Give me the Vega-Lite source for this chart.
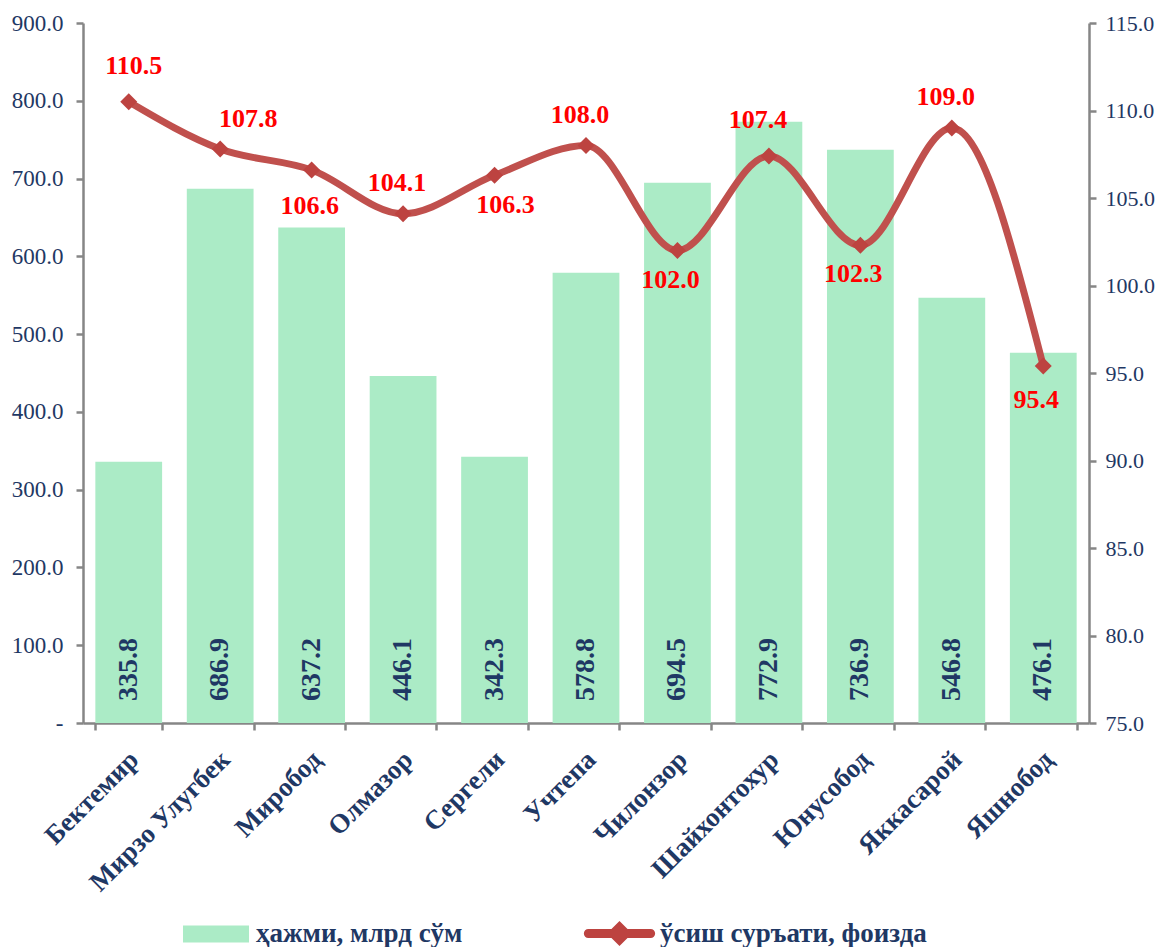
{
  "$schema": "https://vega.github.io/schema/vega-lite/v6.json",
  "width": 1006,
  "height": 700,
  "autosize": {"type": "none"},
  "padding": {"left": 83, "top": 23, "right": 67, "bottom": 224},
  "background": "white",
  "config": {
    "view": {"stroke": null},
    "font": "Liberation Serif",
    "axis": {
      "domainColor": "#868686",
      "domainWidth": 2.5,
      "tickColor": "#868686",
      "tickWidth": 2.5,
      "tickSize": 7,
      "labelColor": "#1f3864",
      "labelFont": "Liberation Serif",
      "labelFontSize": 22,
      "grid": false,
      "title": null
    },
    "legend": {
      "padding": 0,
      "labelFont": "Liberation Serif",
      "labelFontSize": 27,
      "labelFontWeight": "bold",
      "labelColor": "#1f3864",
      "labelLimit": 0,
      "title": null
    }
  },
  "data": {
    "values": [
      {"district": "Бектемир", "volume": 335.8, "growth": 110.5},
      {"district": "Мирзо Улугбек", "volume": 686.9, "growth": 107.8},
      {"district": "Миробод", "volume": 637.2, "growth": 106.6},
      {"district": "Олмазор", "volume": 446.1, "growth": 104.1},
      {"district": "Сергели", "volume": 342.3, "growth": 106.3},
      {"district": "Учтепа", "volume": 578.8, "growth": 108.0},
      {"district": "Чилонзор", "volume": 694.5, "growth": 102.0},
      {"district": "Шайхонтохур", "volume": 772.9, "growth": 107.4},
      {"district": "Юнусобод", "volume": 736.9, "growth": 102.3},
      {"district": "Яккасарой", "volume": 546.8, "growth": 109.0},
      {"district": "Яшнобод", "volume": 476.1, "growth": 95.4}
    ]
  },
  "encoding": {
    "x": {
      "field": "district",
      "type": "nominal",
      "sort": null,
      "scale": {"paddingInner": 0.27, "paddingOuter": 0.135},
      "axis": {
        "labelAngle": -45,
        "labelAlign": "right",
        "labelBaseline": "top",
        "labelFontWeight": "bold",
        "labelFontSize": 27,
        "labelPadding": 16,
        "labelOffset": -4,
        "labelLimit": 0,
        "tickBand": "extent"
      }
    }
  },
  "layer": [
    {
      "encoding": {
        "y": {
          "field": "volume",
          "type": "quantitative",
          "scale": {"domain": [0, 900], "nice": false},
          "axis": {
            "orient": "left",
            "values": [0, 100, 200, 300, 400, 500, 600, 700, 800, 900],
            "labelExpr": "datum.value == 0 ? '-' : format(datum.value, '.1f')",
            "labelFontSize": 23,
            "labelPadding": 13
          }
        }
      },
      "layer": [
        {
          "mark": {"type": "bar", "color": "#abebc6"},
          "encoding": {
            "fill": {
              "datum": "ҳажми, млрд сўм",
              "type": "nominal",
              "scale": {"range": ["#abebc6"]},
              "legend": {
                "orient": "none",
                "legendX": 100,
                "legendY": 878,
                "labelOffset": 7,
                "symbolType": "M-1,-0.258H1V0.258H-1Z",
                "symbolSize": 4356,
                "symbolStrokeWidth": 0
              }
            }
          }
        },
        {
          "mark": {
            "type": "text",
            "angle": 270,
            "align": "left",
            "baseline": "middle",
            "dx": 22,
            "fontSize": 28,
            "fontWeight": "bold",
            "color": "#1f3864"
          },
          "encoding": {
            "y": {"datum": 0},
            "text": {"field": "volume", "type": "quantitative", "format": ".1f"}
          }
        }
      ]
    },
    {
      "encoding": {
        "y": {
          "field": "growth",
          "type": "quantitative",
          "scale": {"domain": [75, 115], "nice": false},
          "axis": {
            "orient": "right",
            "values": [75, 80, 85, 90, 95, 100, 105, 110, 115],
            "format": ".1f",
            "labelFontSize": 22,
            "labelPadding": 9
          }
        }
      },
      "layer": [
        {
          "mark": {"type": "line", "color": "#c0504d", "strokeWidth": 7, "interpolate": "monotone"},
          "encoding": {}
        },
        {
          "mark": {"type": "point", "shape": "diamond", "size": 289, "filled": true, "opacity": 1},
          "encoding": {
            "color": {
              "datum": "ўсиш суръати, фоизда",
              "type": "nominal",
              "scale": {"range": ["#bd4340"]},
              "legend": {
                "orient": "none",
                "legendX": 503,
                "legendY": 877,
                "labelOffset": 7,
                "symbolType": "M-0.93,-0.134H-0.24L0,-0.37L0.24,-0.134H0.93A0.134,0.134 0 0 1 0.93,0.134H0.24L0,0.37L-0.24,0.134H-0.93A0.134,0.134 0 0 1 -0.93,-0.134Z",
                "symbolSize": 4489,
                "symbolStrokeWidth": 0,
                "symbolFillColor": "#c0504d"
              }
            }
          }
        },
        {
          "transform": [{"filter": {"field": "district", "oneOf": ["Бектемир"]}}],
          "mark": {"type": "text", "color": "#ff0000", "fontSize": 26, "fontWeight": "bold", "baseline": "middle", "dx": 5, "dy": -36},
          "encoding": {"text": {"field": "growth", "type": "quantitative", "format": ".1f"}}
        },
        {
          "transform": [{"filter": {"field": "district", "oneOf": ["Мирзо Улугбек"]}}],
          "mark": {"type": "text", "color": "#ff0000", "fontSize": 26, "fontWeight": "bold", "baseline": "middle", "dx": 28, "dy": -30},
          "encoding": {"text": {"field": "growth", "type": "quantitative", "format": ".1f"}}
        },
        {
          "transform": [{"filter": {"field": "district", "oneOf": ["Учтепа", "Яккасарой", "Олмазор"]}}],
          "mark": {"type": "text", "color": "#ff0000", "fontSize": 26, "fontWeight": "bold", "baseline": "middle", "dx": -6, "dy": -31},
          "encoding": {"text": {"field": "growth", "type": "quantitative", "format": ".1f"}}
        },
        {
          "transform": [{"filter": {"field": "district", "oneOf": ["Шайхонтохур"]}}],
          "mark": {"type": "text", "color": "#ff0000", "fontSize": 26, "fontWeight": "bold", "baseline": "middle", "dx": -11, "dy": -36},
          "encoding": {"text": {"field": "growth", "type": "quantitative", "format": ".1f"}}
        },
        {
          "transform": [{"filter": {"field": "district", "oneOf": ["Миробод"]}}],
          "mark": {"type": "text", "color": "#ff0000", "fontSize": 26, "fontWeight": "bold", "baseline": "middle", "dx": -2, "dy": 36},
          "encoding": {"text": {"field": "growth", "type": "quantitative", "format": ".1f"}}
        },
        {
          "transform": [{"filter": {"field": "district", "oneOf": ["Сергели"]}}],
          "mark": {"type": "text", "color": "#ff0000", "fontSize": 26, "fontWeight": "bold", "baseline": "middle", "dx": 11, "dy": 30},
          "encoding": {"text": {"field": "growth", "type": "quantitative", "format": ".1f"}}
        },
        {
          "transform": [{"filter": {"field": "district", "oneOf": ["Чилонзор", "Юнусобод"]}}],
          "mark": {"type": "text", "color": "#ff0000", "fontSize": 26, "fontWeight": "bold", "baseline": "middle", "dx": -7, "dy": 29},
          "encoding": {"text": {"field": "growth", "type": "quantitative", "format": ".1f"}}
        },
        {
          "transform": [{"filter": {"field": "district", "oneOf": ["Яшнобод"]}}],
          "mark": {"type": "text", "color": "#ff0000", "fontSize": 26, "fontWeight": "bold", "baseline": "middle", "dx": -7, "dy": 34},
          "encoding": {"text": {"field": "growth", "type": "quantitative", "format": ".1f"}}
        }
      ]
    }
  ],
  "resolve": {"scale": {"y": "independent"}}
}
